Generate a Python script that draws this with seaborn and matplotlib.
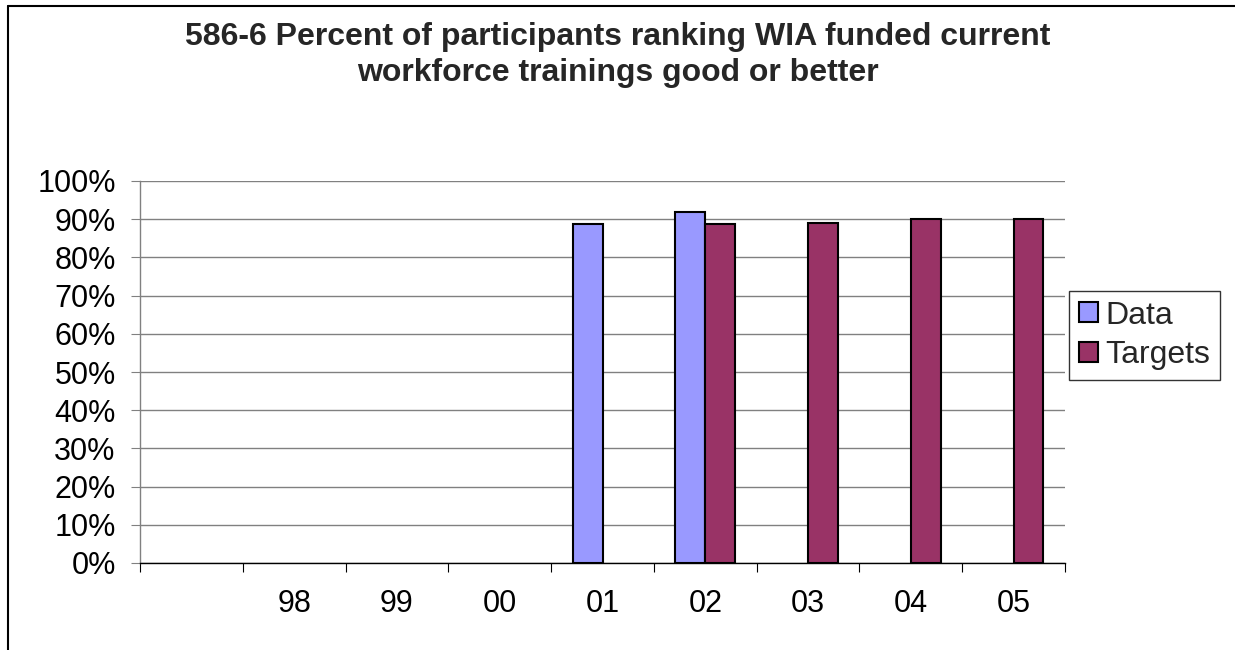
import matplotlib
matplotlib.use('Agg')
import matplotlib.pyplot as plt
import matplotlib.ticker as mticker
from matplotlib.lines import Line2D
import numpy as np
import pandas as pd
import seaborn as sns

# Values
years = ['', '98', '99', '00', '01', '02', '03', '04', '05']
data_vals = [np.nan, np.nan, np.nan, np.nan, 0.887, 0.92, np.nan, np.nan, np.nan]
target_vals = [np.nan, np.nan, np.nan, np.nan, np.nan, 0.887, 0.89, 0.90, 0.90]
series = ['Data', 'Targets']
colors = ['#9999FF', '#993366']

df = pd.DataFrame({'year': years * 2,
                   'series': ['Data'] * len(years) + ['Targets'] * len(years),
                   'value': data_vals + target_vals})
df = df.dropna(subset=['value'])

sns.set_style('white')
plt.rcParams['font.family'] = ['Liberation Sans', 'DejaVu Sans']

fig = plt.figure(figsize=(12.35, 6.5), dpi=100)
ax = fig.add_axes([140 / 1235, 87 / 650, 925 / 1235, 382 / 650])

sns.barplot(data=df, x='year', y='value', hue='series', order=years,
            hue_order=series, palette=colors, width=0.58, saturation=1,
            edgecolor='black', linewidth=1.5, legend=False, ax=ax)

ax.set_xlim(-0.5, len(years) - 0.5)
ax.set_ylim(0, 1)
ax.set_xlabel('')
ax.set_ylabel('')

# y axis
ax.yaxis.set_major_locator(mticker.MultipleLocator(0.1))
ax.yaxis.set_major_formatter(mticker.PercentFormatter(1.0, decimals=0))
ax.tick_params(axis='y', which='major', left=True, length=6.5, width=0.8,
               color='#808080', labelsize=22, pad=11, labelcolor='black')
ax.grid(axis='y', color='#808080', linewidth=1)
ax.set_axisbelow(True)
ygl = ax.get_ygridlines()
ygl[0].set_visible(False)
ygl[-1].set_visible(False)

# x axis: labels centered, tick marks between categories
ax.tick_params(axis='x', which='major', bottom=False, length=0,
               labelsize=22, pad=19, labelcolor='black')
ax.set_xticks(np.arange(-0.5, len(years), 1), minor=True)
ax.tick_params(axis='x', which='minor', bottom=True, length=6.5, width=0.8,
               color='black')

for s in ['top', 'right']:
    ax.spines[s].set_visible(False)
ax.spines['left'].set_color('#808080')
ax.spines['left'].set_linewidth(1)
ax.spines['bottom'].set_color('black')
ax.spines['bottom'].set_linewidth(1)

fig.text(0.5, 1 - 55 / 650,
         '586-6 Percent of participants ranking WIA funded current\nworkforce trainings good or better',
         ha='center', va='center', fontsize=23, fontweight='bold',
         linespacing=1.24)

handles = [plt.Rectangle((0, 0), 1, 1, facecolor=c, edgecolor='black', linewidth=1.5)
           for c in colors]
leg = fig.legend(handles, series, loc='upper left',
                 bbox_to_anchor=(1069 / 1235, 1 - 291 / 650),
                 fontsize=23, frameon=True, fancybox=False, edgecolor='black',
                 handlelength=0.6, handleheight=0.6, handletextpad=0.25,
                 borderpad=0.3, labelspacing=0.3, borderaxespad=0)
leg.get_frame().set_linewidth(1)

# outer chart frame (left and top edges)
fig.add_artist(Line2D([8 / 1235, 8 / 1235], [0, 1 - 6 / 650], color='black', linewidth=1.5))
fig.add_artist(Line2D([8 / 1235, 1], [1 - 6 / 650, 1 - 6 / 650], color='black', linewidth=1.5))

fig.savefig('out.png', dpi=100)
